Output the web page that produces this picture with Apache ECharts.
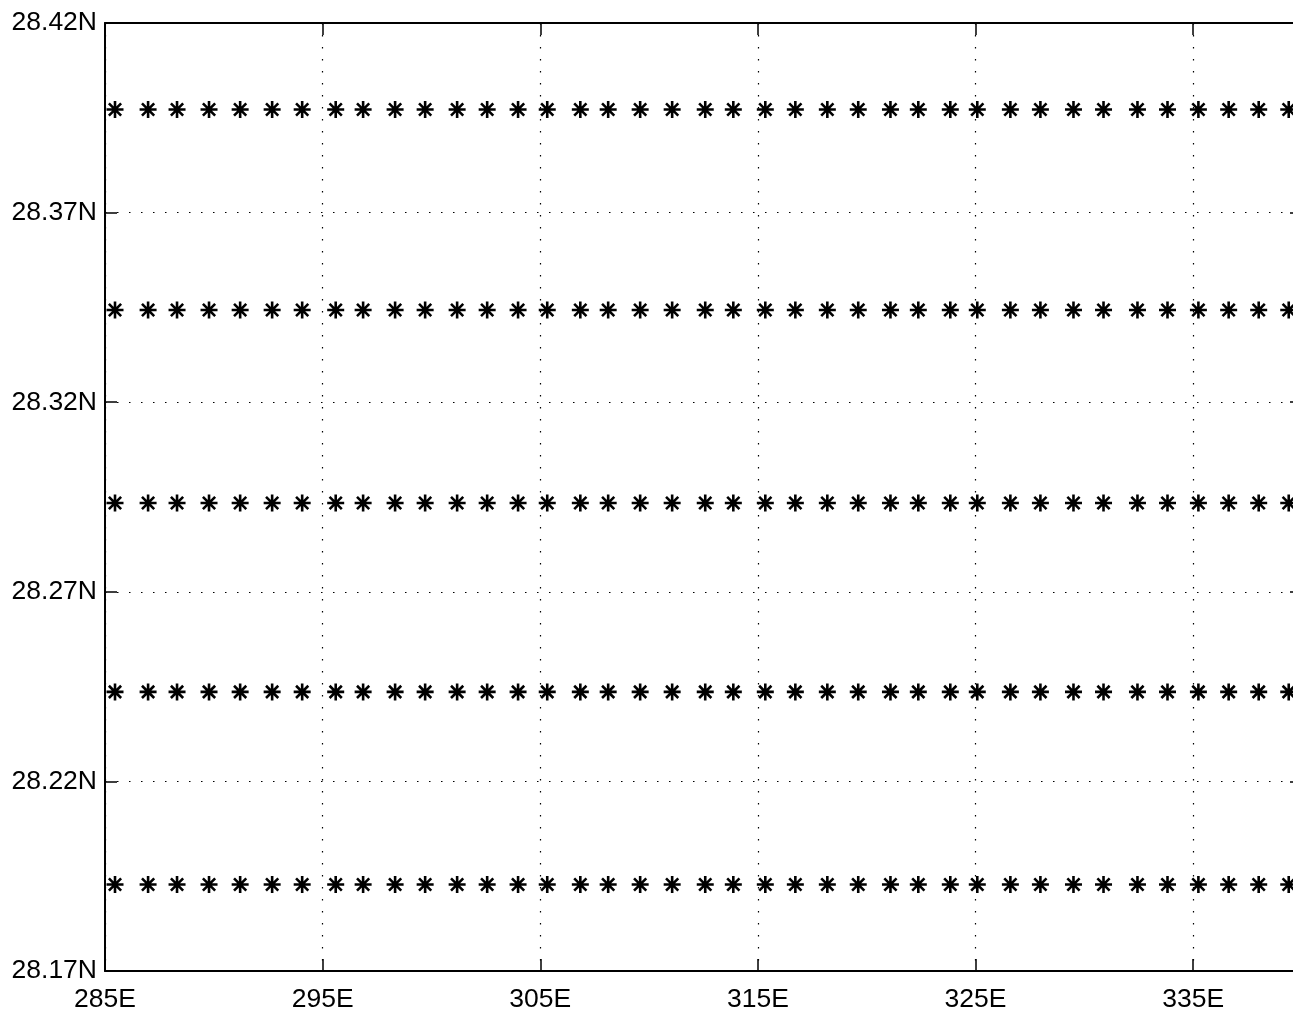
<!DOCTYPE html>
<html>
<head>
<meta charset="utf-8">
<script src="https://cdn.jsdelivr.net/npm/echarts@6/dist/echarts.min.js"></script>
<style>
html,body{margin:0;padding:0;background:#fff;overflow:hidden;}
#chart{width:1302px;height:1013px;}
</style>
</head>
<body>
<div id="chart"></div>
<script>
// Longitudes (degrees E) of the marker columns
const longitudes = [285.46, 286.98, 288.31, 289.78, 291.21, 292.68, 294.06, 295.60, 296.86, 298.33,
  299.71, 301.18, 302.56, 303.98, 305.32, 306.84, 308.12, 309.59, 311.06, 312.58,
  313.87, 315.34, 316.72, 318.19, 319.61, 321.09, 322.37, 323.84, 325.08, 326.60,
  327.98, 329.50, 330.88, 332.44, 333.82, 335.24, 336.63, 338.01, 339.39];
// Latitudes (degrees N) of the marker rows
const latitudes = [28.3972, 28.3443, 28.2934, 28.2436, 28.1928];
// Axis ticks
const xTicks = [285, 295, 305, 315, 325, 335];
const yTicks = [28.17, 28.22, 28.27, 28.32, 28.37, 28.42];

const X_MIN = 285, X_MAX = 340, Y_MIN = 28.17, Y_MAX = 28.42;

const points = [];
latitudes.forEach(function (lat) {
  longitudes.forEach(function (lon) { points.push([lon, lat]); });
});

const star = 'path://M0,-1L0,1M-1,0L1,0M-0.72,-0.72L0.72,0.72M-0.72,0.72L0.72,-0.72';
const font = 'Liberation Sans, Arial, Helvetica, sans-serif';

const chart = echarts.init(document.getElementById('chart'), null, {renderer: 'canvas'});
chart.setOption({
  backgroundColor: '#fff',
  animation: false,
  grid: {left: 105, right: 0, top: 23, bottom: 41, show: false},
  xAxis: [{
    type: 'value', min: X_MIN, max: X_MAX, interval: 10,
    position: 'bottom',
    axisLine: {show: true, lineStyle: {color: '#000', width: 2}},
    axisTick: {show: true, inside: true, length: 12, lineStyle: {color: '#000', width: 1.5}},
    axisLabel: {
      show: true, color: '#000', fontSize: 26.5, fontFamily: font, margin: 15,
      showMaxLabel: false,
      formatter: function (v) {
        const t = xTicks.find(function (k) { return Math.abs(k - v) < 1e-6; });
        return t === undefined ? '' : t + 'E';
      }
    },
    splitLine: {show: true, lineStyle: {color: '#000', width: 1.2, type: [1.5, 10.5]}}
  }, {
    type: 'value', min: X_MIN, max: X_MAX, interval: 10,
    position: 'top',
    axisLine: {show: true, lineStyle: {color: '#000', width: 2}},
    axisTick: {show: true, inside: true, length: 12, lineStyle: {color: '#000', width: 1.5}},
    axisLabel: {show: false},
    splitLine: {show: false}
  }],
  yAxis: [{
    type: 'value', min: Y_MIN, max: Y_MAX, interval: 0.05,
    position: 'left',
    axisLine: {show: true, lineStyle: {color: '#000', width: 2}},
    axisTick: {show: true, inside: true, length: 12, lineStyle: {color: '#000', width: 1.5}},
    axisLabel: {
      show: true, color: '#000', fontSize: 26.5, fontFamily: font, margin: 8,
      formatter: function (v) {
        const t = yTicks.find(function (k) { return Math.abs(k - v) < 1e-6; });
        return (t === undefined ? v : t).toFixed(2) + 'N';
      }
    },
    splitLine: {show: true, lineStyle: {color: '#000', width: 1.2, type: [1.5, 10.5]}}
  }, {
    type: 'value', min: Y_MIN, max: Y_MAX, interval: 0.05,
    position: 'right',
    axisLine: {show: true, lineStyle: {color: '#000', width: 2}},
    axisTick: {show: true, inside: true, length: 12, lineStyle: {color: '#000', width: 1.5}},
    axisLabel: {show: false},
    splitLine: {show: false}
  }],
  series: [{
    type: 'scatter',
    xAxisIndex: 0, yAxisIndex: 0,
    data: points,
    symbol: star,
    symbolSize: 17,
    symbolKeepAspect: true,
    itemStyle: {color: 'none', borderColor: '#000', borderWidth: 2.6, opacity: 1},
    silent: true,
    clip: false
  }]
});
</script>
</body>
</html>
